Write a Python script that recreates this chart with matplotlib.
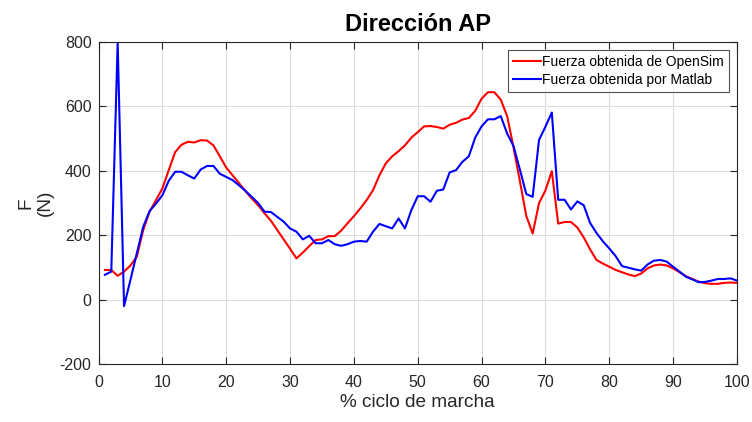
import matplotlib
matplotlib.use('Agg')
import matplotlib.pyplot as plt

plt.rcParams['font.family'] = ['Liberation Sans', 'DejaVu Sans']
plt.rcParams['axes.unicode_minus'] = False

# % gait cycle
ciclo = list(range(1, 101))

# force from OpenSim (N)
f_opensim = [92, 92, 74, 87, 106, 133, 216, 273, 309, 345,
             402, 458, 481, 490, 488, 495, 494, 479, 445, 410,
             386, 362, 337, 314, 293, 268, 245, 216, 187, 158,
             128, 146, 166, 185, 187, 197, 197, 214, 237, 259,
             283, 309, 340, 386, 423, 445, 461, 479, 503, 520,
             538, 539, 536, 531, 543, 549, 559, 564, 586, 624,
             644, 644, 621, 570, 473, 368, 260, 205, 300, 339,
             399, 236, 241, 241, 224, 193, 156, 123, 112, 102,
             92, 85, 78, 73, 81, 97, 106, 109, 106, 97,
             85, 73, 64, 56, 51, 49, 49, 52, 53, 52]

# force from Matlab (N)
f_matlab = [77, 87, 800, -20, 61, 144, 226, 275, 298, 324,
            369, 397, 397, 386, 376, 404, 415, 415, 391, 381,
            371, 355, 338, 319, 300, 273, 272, 257, 242, 221,
            211, 187, 198, 175, 175, 185, 172, 167, 172, 180,
            182, 180, 211, 235, 228, 221, 252, 221, 278, 321,
            321, 304, 338, 342, 395, 402, 428, 445, 503, 538,
            560, 560, 570, 516, 477, 404, 328, 319, 496, 537,
            581, 310, 310, 280, 305, 293, 238, 207, 181, 159,
            135, 104, 99, 94, 90, 109, 121, 123, 118, 102,
            87, 71, 63, 54, 55, 59, 64, 64, 66, 59]

fig = plt.figure(figsize=(7.52, 4.22), dpi=100)
ax = fig.add_axes([0.131, 0.1374, 0.849, 0.7631])

ax.plot(ciclo, f_opensim, color='#ff0000', lw=1.5, label='Fuerza obtenida de OpenSim')
ax.plot(ciclo, f_matlab, color='#0000ff', lw=1.5, label='Fuerza obtenida por Matlab')

ax.set_xlim(0, 100)
ax.set_ylim(-200, 800)
ax.set_xticks(range(0, 101, 10))
ax.set_yticks(range(-200, 801, 200))
ax.grid(True, color='#dcdcdc', lw=0.8)
ax.set_axisbelow(True)
ax.tick_params(direction='in', top=True, right=True, length=5,
               colors='#262626', labelsize=11.5, width=0.8)
ax.tick_params(axis='x', pad=8)
ax.tick_params(axis='y', pad=5)
for s in ax.spines.values():
    s.set_color('#262626')
    s.set_linewidth(0.8)

ax.set_title('Dirección AP', fontsize=17, fontweight='bold', color='black', pad=8)
ax.set_xlabel('% ciclo de marcha', fontsize=13.7, color='#262626', labelpad=3)
ax.set_ylabel('F\n(N)', fontsize=13.7, color='#262626', labelpad=4)

leg = ax.legend(loc='upper right', fontsize=10, frameon=True, fancybox=False,
                borderpad=0.35, handlelength=2.0, handletextpad=0.1,
                labelspacing=0.3, borderaxespad=0.6)
leg.get_frame().set_edgecolor('#262626')
leg.get_frame().set_linewidth(0.8)

fig.savefig('out.png', dpi=100)
